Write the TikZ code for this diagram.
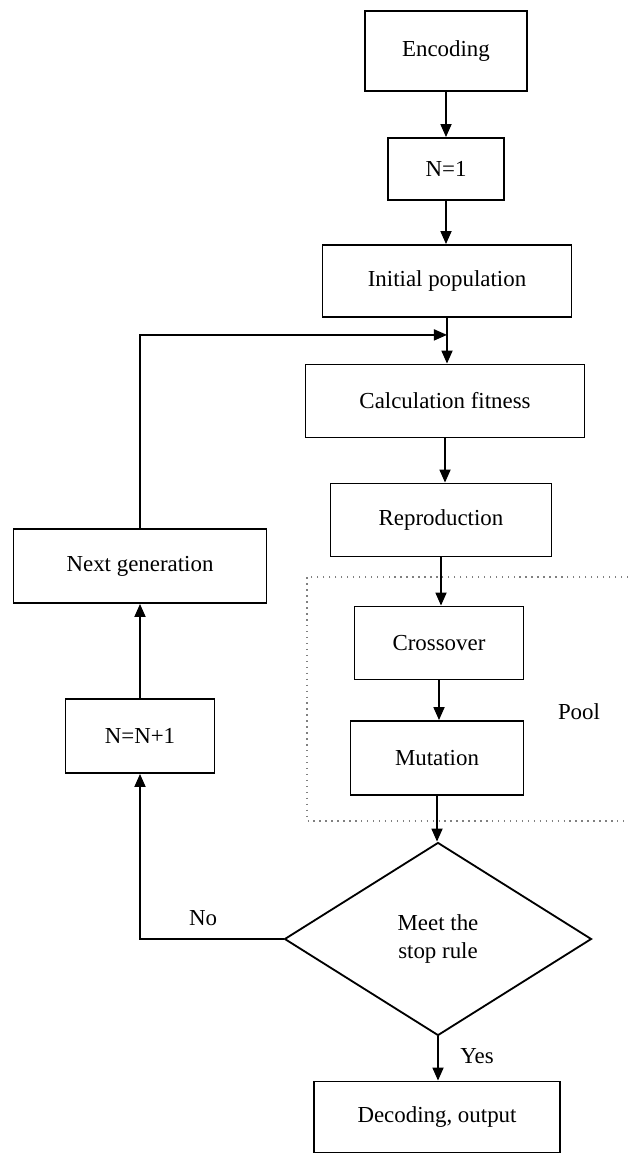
\documentclass[tikz,border=0pt]{standalone}
\usepackage{fontspec}
\setmainfont{Liberation Serif}
\usetikzlibrary{shapes.geometric,arrows.meta}
\newlength\px
\setlength\px{0.01535cm}
\tikzset{
  box/.style={draw,line width=0.8pt,rectangle,inner sep=0pt},
  stoprule/.style={draw,line width=0.8pt,diamond,inner sep=0pt,align=center,
    minimum width=307\px,minimum height=193\px},
  arr/.style={line width=0.8pt,-{Triangle[length=5.7pt,width=4.8pt]}},
  pooledge/.style={draw=gray,dotted,line width=0.6pt}
}
\begin{document}
\begin{tikzpicture}[x=\px,y=-\px]
\useasboundingbox (0,0) rectangle (628,1155);

\node[box,minimum width=162\px,minimum height=80\px] (enc) at (446,51) {Encoding};
\node[box,minimum width=116\px,minimum height=62\px] (n1) at (446,169) {N=1};
\node[box,minimum width=249\px,minimum height=72\px] (init) at (447,281) {Initial population};
\node[box,minimum width=279\px,minimum height=73\px] (calc) at (445,401) {Calculation fitness};
\node[box,minimum width=221\px,minimum height=73\px] (repr) at (441,520) {Reproduction};
\node[box,minimum width=169\px,minimum height=73\px] (cross) at (439,643) {Crossover};
\node[box,minimum width=173\px,minimum height=74\px] (mut) at (437,758) {Mutation};
\node[stoprule] (stop) at (438,939) {Meet the\\stop rule};
\node[box,minimum width=246\px,minimum height=71\px] (dec) at (437,1117) {Decoding, output};
\node[box,minimum width=253\px,minimum height=74\px] (nextgen) at (140,566) {Next generation};
\node[box,minimum width=149\px,minimum height=74\px] (nn1) at (140,736) {N=N+1};

\draw[pooledge] (628,577) -- (307,577) -- (307,821) -- (628,821);
\node (pool) at (579,712) {Pool};
\node (no) at (203,918) {No};
\node (yes) at (477,1056) {Yes};

\path (init.south) ++(0,17) coordinate (merge);
\draw[arr] (enc) -- (enc |- n1.north);
\draw[arr] (n1) -- (n1 |- init.north);
\draw[arr] (init) -- (init |- calc.north);
\draw[arr] (calc) -- (calc |- repr.north);
\draw[arr] (repr) -- (repr |- cross.north);
\draw[arr] (cross) -- (cross |- mut.north);
\draw[arr] (mut) -- (mut |- stop.north);
\draw[arr] (stop) -- (stop |- dec.north);
\draw[arr] (stop.west) -| (nn1.south);
\draw[arr] (nn1) -- (nextgen);
\draw[arr] (nextgen.north) |- (merge);
\end{tikzpicture}
\end{document}
